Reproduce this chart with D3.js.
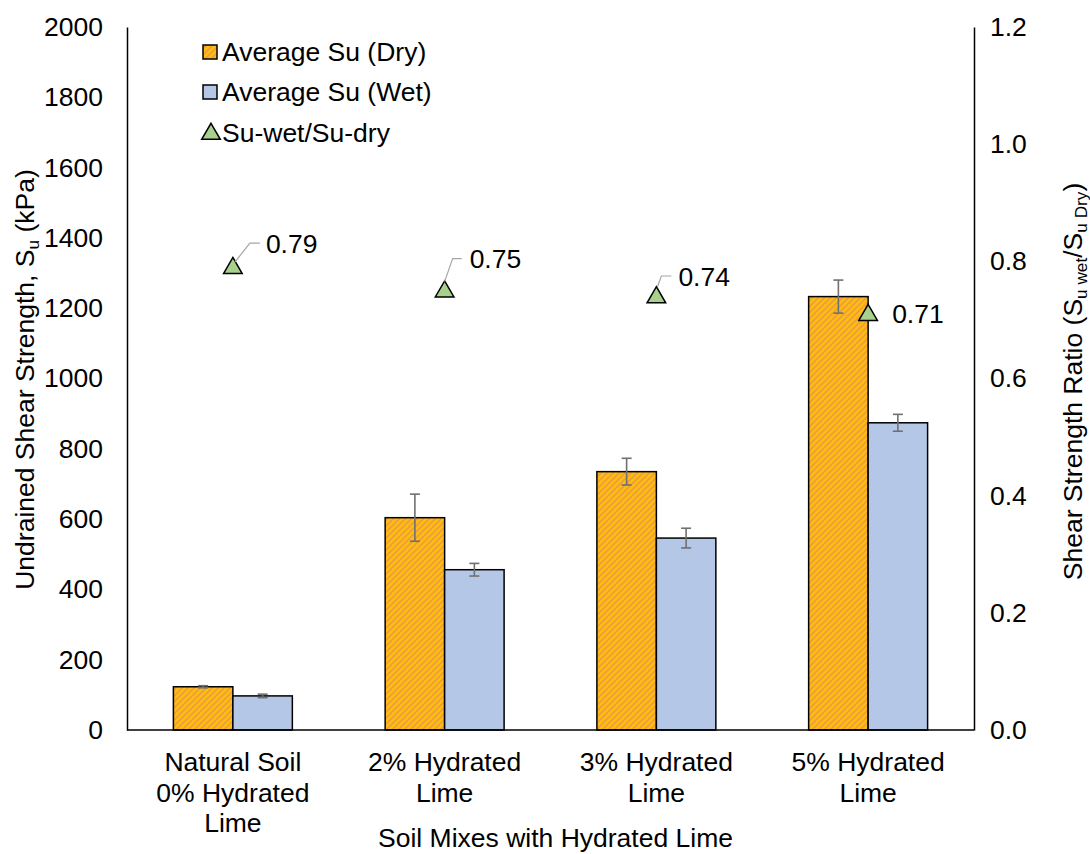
<!DOCTYPE html>
<html>
<head>
<meta charset="utf-8">
<script src="https://cdn.jsdelivr.net/npm/d3@7"></script>
<style>
  html, body { margin: 0; padding: 0; background: #fff; }
  svg { display: block; font-family: "Liberation Sans", Arial, sans-serif; }
</style>
</head>
<body>
<svg id="chart" width="1090" height="854"></svg>
<script>
// ---- data ----
const categories = [
  ["Natural Soil", "0% Hydrated", "Lime"],
  ["2% Hydrated", "Lime"],
  ["3% Hydrated", "Lime"],
  ["5% Hydrated", "Lime"]
];
const suDry = [123, 604, 735, 1233];
const suDryErr = [3, 67, 38, 47];
const suWet = [97, 456, 546, 874];
const suWetErr = [5, 18, 28, 24];
const ratio = [0.79, 0.75, 0.74, 0.71];
const leftTicks = [0, 200, 400, 600, 800, 1000, 1200, 1400, 1600, 1800, 2000];
const rightTicks = [0, 0.2, 0.4, 0.6, 0.8, 1.0, 1.2];
const legendLabels = ["Average Su (Dry)", "Average Su (Wet)", "Su-wet/Su-dry"];

// ---- layout ----
const plot = { left: 127, right: 974, top: 27, bottom: 730 };
const FONT = 26.5;
const dryFill = "#FFC000", dryStripe = "#EC9B48";
const wetFill = "#B4C7E7";
const triFill = "#A9D18E";
const errColor = "#707070";

const svg = d3.select("#chart");

// diagonal stripe fill for the dry bars
const defs = svg.append("defs");
const pat = defs.append("pattern")
  .attr("id", "dryHatch")
  .attr("patternUnits", "userSpaceOnUse")
  .attr("width", 6).attr("height", 6);
pat.append("rect").attr("width", 6).attr("height", 6).attr("fill", dryFill);
pat.append("path")
  .attr("d", "M0,6 L6,0 M-1.5,1.5 L1.5,-1.5 M4.5,7.5 L7.5,4.5")
  .attr("stroke", dryStripe).attr("stroke-width", 1.7);

const idx = d3.range(categories.length);
const x = d3.scaleBand().domain(idx).range([plot.left, plot.right]).padding(0);
const barW = x.bandwidth() / (2 + 1.56);
const yL = d3.scaleLinear().domain([0, 2000]).range([plot.bottom, plot.top]);
const yR = d3.scaleLinear().domain([0, 1.2]).range([plot.bottom, plot.top]);
const cx = i => x(i) + x.bandwidth() / 2;

// bars
const bars = svg.append("g");
bars.selectAll(".dry").data(suDry).join("rect")
  .attr("x", (d, i) => cx(i) - barW)
  .attr("y", d => yL(d))
  .attr("width", barW)
  .attr("height", d => yL(0) - yL(d))
  .attr("fill", "url(#dryHatch)")
  .attr("stroke", "#000").attr("stroke-width", 1.5);
bars.selectAll(".wet").data(suWet).join("rect")
  .attr("x", (d, i) => cx(i))
  .attr("y", d => yL(d))
  .attr("width", barW)
  .attr("height", d => yL(0) - yL(d))
  .attr("fill", wetFill)
  .attr("stroke", "#000").attr("stroke-width", 1.5);

// error bars
function errorBars(vals, errs, offset) {
  const g = svg.append("g").attr("stroke", errColor).attr("stroke-width", 1.6).attr("fill", "none");
  vals.forEach((v, i) => {
    const xm = cx(i) + offset;
    const y1 = yL(v + errs[i]), y2 = yL(v - errs[i]);
    g.append("line").attr("x1", xm).attr("x2", xm).attr("y1", y1).attr("y2", y2);
    g.append("line").attr("x1", xm - 5).attr("x2", xm + 5).attr("y1", y1).attr("y2", y1);
    g.append("line").attr("x1", xm - 5).attr("x2", xm + 5).attr("y1", y2).attr("y2", y2);
  });
}
errorBars(suDry, suDryErr, -barW / 2);
errorBars(suWet, suWetErr, barW / 2);

// axes
const axL = svg.append("g").attr("transform", `translate(${plot.left},0)`)
  .call(d3.axisLeft(yL).tickValues(leftTicks).tickSize(0).tickPadding(24).tickFormat(d3.format("d")));
const axR = svg.append("g").attr("transform", `translate(${plot.right},0)`)
  .call(d3.axisRight(yR).tickValues(rightTicks).tickSize(0).tickPadding(16).tickFormat(d3.format(".1f")));
[axL, axR].forEach(a => {
  a.select(".domain").attr("stroke", "#000").attr("stroke-width", 1.5);
  a.selectAll("text").attr("font-size", FONT).attr("fill", "#000")
    .attr("font-family", "Liberation Sans, Arial, sans-serif");
});
svg.append("line")
  .attr("x1", plot.left).attr("x2", plot.right)
  .attr("y1", plot.bottom).attr("y2", plot.bottom)
  .attr("stroke", "#000").attr("stroke-width", 1.5);

// category labels
const catG = svg.append("g").attr("font-size", FONT).attr("text-anchor", "middle");
categories.forEach((lines, i) => {
  lines.forEach((t, k) => {
    catG.append("text").attr("x", cx(i)).attr("y", 762 + k * 30.5)
      .attr("dy", "0.35em").text(t);
  });
});

// ratio markers
const tri = d3.symbol().type(d3.symbolTriangle).size(150);
svg.append("g").selectAll("path").data(ratio).join("path")
  .attr("d", tri)
  .attr("transform", (d, i) => `translate(${cx(i)},${yR(d) + 1})`)
  .attr("fill", triFill).attr("stroke", "#000").attr("stroke-width", 1.5);

// ratio labels with leader lines
const labelOffsets = [
  { dx: 33, dy: -23, leader: [[2, -5], [17, -24], [27, -24]] },
  { dx: 25, dy: -32, leader: [[0, -9], [8, -32], [17, -32]] },
  { dx: 22, dy: -20, leader: [[1, -9.5], [5, -20.5], [15, -20.5]] },
  { dx: 24, dy: 0, leader: null }
];
const lblG = svg.append("g");
ratio.forEach((r, i) => {
  const px = cx(i), py = yR(r);
  const o = labelOffsets[i];
  if (o.leader) {
    lblG.append("path")
      .attr("d", d3.line()(o.leader.map(p => [px + p[0], py + p[1]])))
      .attr("fill", "none").attr("stroke", "#A6A6A6").attr("stroke-width", 1.2);
  }
  lblG.append("text").attr("x", px + o.dx).attr("y", py + o.dy)
    .attr("dy", "0.35em").attr("font-size", FONT).text(d3.format(".2f")(r));
});

// legend
const leg = svg.append("g").attr("font-size", FONT);
const legY = [52, 92, 133];
leg.append("rect").attr("x", 203).attr("y", legY[0] - 7).attr("width", 14).attr("height", 14)
  .attr("fill", "url(#dryHatch)").attr("stroke", "#000").attr("stroke-width", 1.5);
leg.append("rect").attr("x", 203).attr("y", legY[1] - 7).attr("width", 14).attr("height", 14)
  .attr("fill", wetFill).attr("stroke", "#000").attr("stroke-width", 1.5);
leg.append("path").attr("d", tri).attr("transform", `translate(211,${legY[2] + 1})`)
  .attr("fill", triFill).attr("stroke", "#000").attr("stroke-width", 1.5);
legendLabels.forEach((t, k) => {
  leg.append("text").attr("x", 222).attr("y", legY[k]).attr("dy", "0.35em").text(t);
});

// axis titles
svg.append("text")
  .attr("transform", `translate(25,${(plot.top + plot.bottom) / 2 + 1}) rotate(-90)`)
  .attr("text-anchor", "middle").attr("dy", "0.35em").attr("font-size", FONT)
  .call(t => {
    t.append("tspan").text("Undrained Shear Strength, S");
    t.append("tspan").attr("font-size", FONT * 0.65).attr("dy", "0.3em").text("u");
    t.append("tspan").attr("dy", "-0.2em").text(" (kPa)");
  });
svg.append("text")
  .attr("transform", `translate(1073,${(plot.top + plot.bottom) / 2 + 3}) rotate(-90)`)
  .attr("text-anchor", "middle").attr("dy", "0.35em").attr("font-size", FONT)
  .call(t => {
    t.append("tspan").text("Shear Strength Ratio (S");
    t.append("tspan").attr("font-size", FONT * 0.65).attr("dy", "0.3em").text("u wet");
    t.append("tspan").attr("dy", "-0.2em").text("/S");
    t.append("tspan").attr("font-size", FONT * 0.65).attr("dy", "0.3em").text("u Dry");
    t.append("tspan").attr("dy", "-0.2em").text(")");
  });
svg.append("text")
  .attr("x", (plot.left + plot.right) / 2 + 5).attr("y", 838).attr("dy", "0.35em")
  .attr("text-anchor", "middle").attr("font-size", FONT)
  .text("Soil Mixes with Hydrated Lime");
</script>
</body>
</html>
